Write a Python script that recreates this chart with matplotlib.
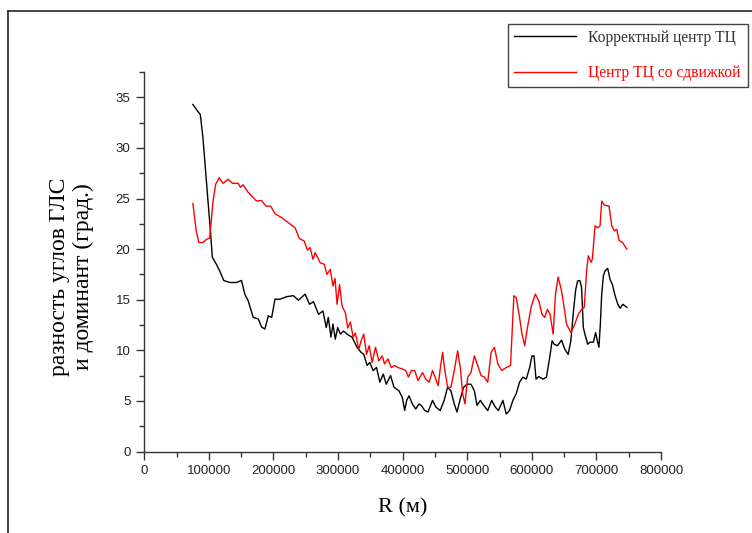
import matplotlib
matplotlib.use('Agg')
import matplotlib.pyplot as plt
from matplotlib.lines import Line2D
from matplotlib.ticker import MultipleLocator

# R, thousands of metres
r_correct = [75.2, 83.0, 86.7, 90.8, 95.0, 98.6, 102.7, 105.3, 111.6, 116.7, 123.0, 132.3,
             142.7, 150.5, 155.6, 160.8, 168.6, 176.4, 181.6, 186.7, 191.9, 197.2, 202.3,
             210.1, 220.6, 230.8, 238.6, 249.0, 255.8, 262.0, 269.8, 276.5, 281.7, 284.9,
             289.0, 292.1, 295.7, 299.4, 303.5, 308.6, 313.8, 321.6, 329.4, 335.6, 339.8,
             345.0, 349.1, 354.3, 359.5, 364.7, 370.0, 374.6, 381.3, 386.5, 394.2, 399.5,
             403.1, 406.2, 409.9, 415.0, 420.2, 425.3, 429.0, 434.2, 439.3, 446.2, 451.3,
             458.1, 464.3, 469.5, 474.7, 479.9, 484.1, 489.2, 494.4, 499.6, 505.8, 511.0,
             515.2, 520.3, 525.5, 531.7, 537.9, 543.2, 548.3, 555.2, 560.4, 565.5, 570.6,
             575.8, 581.0, 586.3, 591.4, 596.6, 600.3, 603.4, 606.5, 610.6, 617.5, 622.6,
             627.7, 631.4, 634.6, 639.7, 645.9, 651.1, 656.3, 660.4, 664.0, 667.7, 670.8,
             674.4, 677.0, 679.7, 682.2, 686.4, 690.0, 695.2, 698.8, 701.4, 703.9, 706.1,
             708.2, 710.7, 713.3, 717.5, 721.1, 724.7, 728.9, 733.1, 736.7, 740.9, 747.1]
d_correct = [34.3, 33.6, 33.3, 31.0, 27.7, 24.75, 21.5, 19.2, 18.5, 17.85, 16.9, 16.7,
             16.7, 16.9, 15.55, 14.9, 13.25, 13.1, 12.3, 12.1, 13.4, 13.25, 15.05,
             15.05, 15.3, 15.4, 14.95, 15.55, 14.55, 14.8, 13.55, 13.9, 12.25, 13.25,
             11.3, 12.6, 11.1, 12.25, 11.6, 11.9, 11.6, 11.3, 10.3, 9.8, 9.6,
             8.5, 8.8, 8.0, 8.3, 6.85, 7.65, 6.65, 7.5, 6.35, 6.0, 5.35,
             4.05, 5.05, 5.5, 4.7, 4.2, 4.7, 4.55, 4.05, 3.9, 5.05, 4.4,
             4.05, 5.05, 6.35, 6.0, 4.7, 3.9, 5.2, 6.35, 6.65, 6.65, 6.0,
             4.55, 5.05, 4.55, 4.05, 5.05, 4.4, 4.05, 5.05, 3.7, 4.05, 5.05,
             5.7, 6.85, 7.35, 7.15, 8.3, 9.45, 9.45, 7.15, 7.4, 7.15, 7.35,
             9.3, 10.95, 10.6, 10.45, 11.0, 10.1, 9.6, 10.95, 13.55, 15.9, 16.85,
             16.9, 16.2, 12.25, 11.6, 10.6, 10.8, 10.8, 11.75, 10.95, 10.3, 12.6,
             15.55, 17.35, 17.85, 18.1, 17.0, 16.5, 15.4, 14.55, 14.15, 14.55, 14.25]

r_shift = [75.2, 80.4, 84.5, 90.8, 96.0, 101.2, 106.4, 110.5, 115.8, 122.0, 129.7, 136.5,
           145.3, 149.0, 153.0, 160.8, 173.8, 181.6, 188.3, 195.6, 202.3, 212.8, 223.1,
           233.5, 240.1, 247.5, 252.6, 256.8, 261.0, 264.6, 272.4, 278.6, 282.8, 287.9,
           292.1, 295.3, 298.4, 302.4, 306.1, 311.3, 315.0, 319.1, 323.3, 326.8, 332.0,
           335.7, 339.8, 344.0, 348.2, 352.8, 358.0, 363.1, 368.4, 372.0, 377.1, 382.4,
           387.5, 392.7, 399.5, 404.7, 408.9, 413.5, 418.7, 423.8, 430.7, 435.8, 441.0,
           446.2, 451.3, 455.0, 458.1, 461.8, 465.4, 469.6, 474.7, 479.9, 485.1, 489.2,
           492.9, 496.5, 500.7, 505.8, 511.0, 516.2, 521.4, 526.5, 531.7, 537.0, 542.1,
           547.4, 553.5, 560.3, 567.0, 572.2, 575.9, 581.0, 584.8, 588.9, 593.2, 599.4,
           605.4, 610.7, 615.8, 620.0, 624.1, 628.3, 633.0, 636.6, 640.7, 645.9, 650.0,
           653.7, 660.4, 666.6, 671.8, 677.0, 681.2, 684.8, 687.4, 691.5, 693.7, 697.8,
           702.0, 705.6, 708.2, 712.4, 719.5, 723.7, 727.9, 731.5, 735.1, 740.4, 747.1]
d_shift = [24.5, 21.8, 20.65, 20.65, 20.95, 21.1, 24.75, 26.4, 27.05, 26.5, 26.9, 26.5,
           26.5, 26.1, 26.35, 25.6, 24.75, 24.8, 24.25, 24.25, 23.5, 23.1, 22.6,
           22.1, 21.05, 20.8, 19.9, 20.15, 19.0, 19.65, 18.65, 18.5, 17.5, 18.0,
           16.35, 17.1, 14.55, 16.5, 14.4, 13.7, 12.2, 12.8, 11.3, 11.7, 10.1,
           10.95, 11.6, 9.6, 10.45, 8.8, 10.3, 8.95, 9.45, 8.65, 9.15, 8.3,
           8.5, 8.3, 8.15, 8.0, 7.35, 8.0, 8.0, 7.0, 7.8, 7.15, 6.85,
           8.0, 7.15, 6.5, 8.15, 9.8, 8.0, 6.35, 6.35, 8.0, 9.95, 8.3,
           5.7, 4.7, 7.35, 7.8, 9.45, 8.5, 7.5, 7.35, 6.85, 9.8, 10.3,
           8.65, 8.0, 8.3, 8.5, 15.4, 15.2, 13.25, 11.6, 10.45, 12.25, 14.4,
           15.55, 14.9, 13.55, 13.25, 14.05, 13.55, 11.6, 15.55, 17.25, 15.9, 14.25,
           12.6, 11.75, 12.6, 13.55, 14.05, 14.25, 17.85, 19.35, 18.7, 19.0, 22.3,
           22.1, 22.3, 24.75, 24.35, 24.25, 22.3, 21.8, 21.95, 20.85, 20.65, 20.0]

label_correct = 'Корректный центр ТЦ'
label_shift = 'Центр ТЦ со сдвижкой'

serif = ['Liberation Serif', 'DejaVu Serif']
sans = ['Liberation Sans', 'DejaVu Sans']

fig = plt.figure(figsize=(7.52, 5.33), dpi=100)
ax = fig.add_axes([0.1919, 0.1529, 0.6871, 0.712])

ax.plot([r * 1000 for r in r_correct], d_correct, color='black', lw=1.0, label=label_correct)
ax.plot([r * 1000 for r in r_shift], d_shift, color='red', lw=1.0, label=label_shift)

ax.set_xlim(0, 800000)
ax.set_ylim(0, 37.5)
ax.xaxis.set_major_locator(MultipleLocator(100000))
ax.xaxis.set_minor_locator(MultipleLocator(50000))
ax.yaxis.set_major_locator(MultipleLocator(5))
ax.yaxis.set_minor_locator(MultipleLocator(2.5))
ax.ticklabel_format(style='plain', axis='x')

for s in ['top', 'right']:
    ax.spines[s].set_visible(False)
for s in ['left', 'bottom']:
    ax.spines[s].set_color('#333333')
    ax.spines[s].set_linewidth(1.0)
ax.tick_params(which='major', length=6, width=1.0, color='#333333', direction='out',
               labelsize=9.5, labelcolor='#222222', pad=4)
ax.tick_params(which='minor', length=3.5, width=1.0, color='#333333', direction='out')
for t in ax.get_xticklabels() + ax.get_yticklabels():
    t.set_family(sans)

ax.set_xlabel('R (м)', family=serif, fontsize=16, labelpad=15)
# y label placed by hand: two centred lines left of the tick labels
fig.text(71.5 / 752, 1 - 277 / 533, 'разность углов ГЛС\nи доминант (град.)',
         family=serif, fontsize=17, rotation=90, ha='center', va='center',
         multialignment='center', linespacing=1.2)

# outer frame (left and top edges only)
fig.add_artist(Line2D([8.3 / 752, 8.3 / 752], [0, 1 - 10.5 / 533],
                      transform=fig.transFigure, color='#222222', lw=1.2))
fig.add_artist(Line2D([8.3 / 752, 1], [1 - 10.5 / 533, 1 - 10.5 / 533],
                      transform=fig.transFigure, color='#222222', lw=1.2))

leg = fig.legend(loc='center', bbox_to_anchor=(0.6755, 0.833, 0.319, 0.1257),
                 mode='expand', fancybox=False, framealpha=1, edgecolor='#444444',
                 prop={'family': serif, 'size': 11.2}, handlelength=4.0,
                 labelspacing=1.25, handletextpad=0.75, borderaxespad=0)
leg.get_frame().set_linewidth(1.0)
leg.get_texts()[0].set_color('#333333')
leg.get_texts()[1].set_color('red')

fig.savefig('out.png', dpi=100, facecolor='white')
